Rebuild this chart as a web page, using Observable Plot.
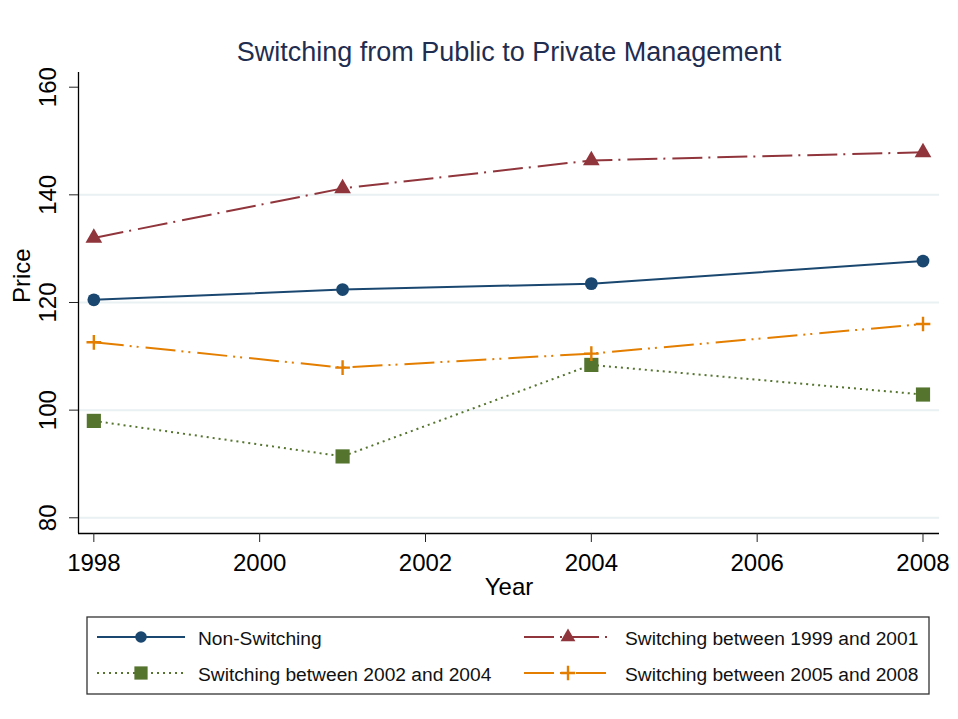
<!DOCTYPE html>
<html>
<head>
<meta charset="utf-8">
<script src="https://cdn.jsdelivr.net/npm/d3@7"></script>
<script src="https://cdn.jsdelivr.net/npm/@observablehq/plot@0.6"></script>
<style>
  body { margin: 0; background: #fff; }
  svg { display: block; }
</style>
</head>
<body>
<div id="chart"></div>
<script>
// ---- data ----
const years = [1998, 2001, 2004, 2008];
const nonSwitching = [120.5, 122.4, 123.5, 127.7];
const switch9901 = [132.0, 141.2, 146.4, 147.9];
const switch0204 = [98.0, 91.4, 108.4, 102.9];
const switch0508 = [112.6, 107.9, 110.5, 116.0];
const seriesNames = [
  "Non-Switching",
  "Switching between 1999 and 2001",
  "Switching between 2002 and 2004",
  "Switching between 2005 and 2008"
];
const yTicks = [80, 100, 120, 140, 160];
const gridValues = [80, 100, 120, 140];
const xTicks = [1998, 2000, 2002, 2004, 2006, 2008];
const titleText = "Switching from Public to Private Management";
const xLabel = "Year";
const yLabel = "Price";

// ---- styles ----
const seriesValues = [nonSwitching, switch9901, switch0204, switch0508];
const styles = [
  {color: "#1a476f", dash: null, symbol: "circle", r: 6.4, legendSize: 105},
  {color: "#90353b", dash: "30 6 2 7", symbol: "triangle", r: 6.2, legendSize: 95},
  {color: "#55752f", dash: "2 4", symbol: "square", r: 8.0, legendSize: 175},
  {color: "#e37e00", dash: "30 6 2 5 2 7", symbol: "plus", r: 4.8, legendSize: 70}
];

const xDomain = [1997.815, 2008.199];
const yDomain = [77.08, 162.73];
const font = "'Liberation Sans', Arial, sans-serif";

const marks = [
  Plot.ruleY(gridValues, {stroke: "#e9f1f3", strokeWidth: 2}),
  Plot.ruleX([xDomain[0]], {stroke: "#000", strokeWidth: 1.3}),
  Plot.ruleY([yDomain[0]], {stroke: "#000", strokeWidth: 1.3}),
  Plot.axisY(yTicks, {tickSize: 9, tickFormat: () => "", label: null, stroke: "#222"}),
  Plot.text(yTicks, {y: d => d, frameAnchor: "left", dx: -23, rotate: -90, lineAnchor: "bottom", textAnchor: "middle", fontSize: 24, fill: "#000", text: d => String(d)}),
  Plot.axisX(xTicks, {tickSize: 9, tickFormat: () => "", label: null, stroke: "#222"}),
  Plot.text(xTicks, {x: d => d, frameAnchor: "bottom", dy: 37, lineAnchor: "bottom", fontSize: 24, fill: "#000", text: d => String(d)}),
  Plot.text([xLabel], {frameAnchor: "bottom", dy: 61, lineAnchor: "bottom", fontSize: 24, fill: "#000"}),
  Plot.text([yLabel], {frameAnchor: "left", dx: -49, rotate: -90, lineAnchor: "bottom", fontSize: 24, fill: "#000"}),
  Plot.text([titleText], {frameAnchor: "top", dy: -12, lineAnchor: "bottom", fontSize: 27, fill: "#1f2d51"})
];

seriesValues.forEach((vals, i) => {
  const st = styles[i];
  const rows = years.map((yr, j) => ({year: yr, value: vals[j]}));
  marks.push(Plot.line(rows, {x: "year", y: "value", stroke: st.color, strokeWidth: 2, strokeDasharray: st.dash, strokeLinecap: "butt"}));
  if (st.symbol === "plus") {
    marks.push(Plot.dot(rows, {x: "year", y: "value", symbol: "plus", r: st.r, stroke: st.color, strokeWidth: 2.4}));
  } else {
    marks.push(Plot.dot(rows, {x: "year", y: "value", symbol: st.symbol, r: st.r, fill: st.color, stroke: "none"}));
  }
});

const chart = Plot.plot({
  width: 958,
  height: 719,
  marginTop: 72,
  marginRight: 19,
  marginBottom: 186,
  marginLeft: 78,
  x: {domain: xDomain},
  y: {domain: yDomain},
  style: {fontFamily: font, background: "#fff", color: "#000", overflow: "visible"},
  marks
});
document.getElementById("chart").appendChild(chart);

// ---- legend ----
const svg = d3.select(chart);
const lg = svg.append("g").attr("font-family", font).attr("text-anchor", "start");
lg.append("rect")
  .attr("x", 87).attr("y", 617).attr("width", 842).attr("height", 77)
  .attr("fill", "none").attr("stroke", "#333").attr("stroke-width", 1.3);
const slots = [[97, 637], [524, 637], [97, 673], [524, 673]];
const symMap = {circle: d3.symbolCircle, triangle: d3.symbolTriangle, square: d3.symbolSquare, plus: d3.symbolPlus};
seriesNames.forEach((name, i) => {
  const st = styles[i];
  const [x0, y0] = slots[i];
  lg.append("line")
    .attr("x1", x0).attr("x2", x0 + 88).attr("y1", y0).attr("y2", y0)
    .attr("stroke", st.color).attr("stroke-width", 2)
    .attr("stroke-dasharray", st.dash);
  const p = lg.append("path")
    .attr("transform", `translate(${x0 + 44},${y0})`)
    .attr("d", d3.symbol(symMap[st.symbol], st.legendSize)());
  if (st.symbol === "plus") p.attr("fill", "none").attr("stroke", st.color).attr("stroke-width", 2.4);
  else p.attr("fill", st.color);
  lg.append("text")
    .attr("x", x0 + 101).attr("y", y0 + 7.5)
    .attr("text-anchor", "start")
    .attr("font-size", 19.2).attr("fill", "#111")
    .text(name);
});
</script>
</body>
</html>
